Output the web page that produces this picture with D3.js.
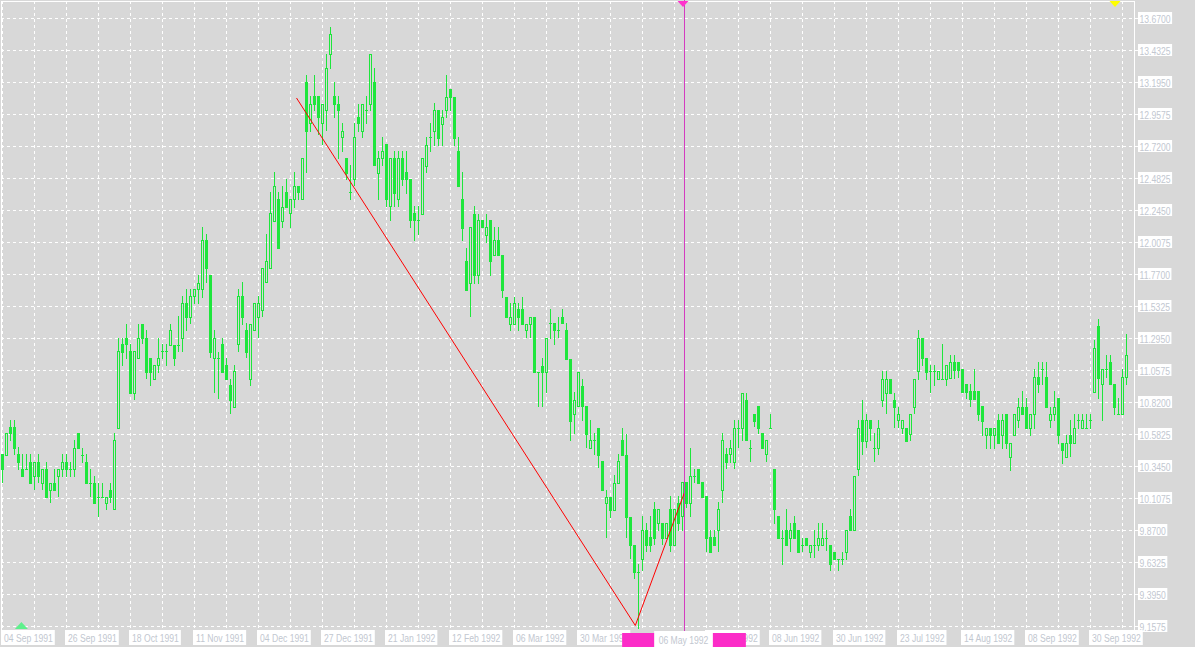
<!DOCTYPE html>
<html><head><meta charset="utf-8">
<script src="https://cdn.jsdelivr.net/npm/d3@7"></script>
<style>body{margin:0;background:#d8d8d8;overflow:hidden}svg{display:block}</style>
</head><body><svg id="c" width="1195" height="647"></svg>
<script>
const startDate = "1991-09-04";
const holidays = ["1991-11-28","1991-12-25","1992-01-01","1992-02-17","1992-04-17","1992-05-25","1992-07-03","1992-09-07"];
const open = [
10.436,10.434,10.637,10.637,10.436,10.330,10.330,10.382,10.275,10.382,
10.223,10.330,10.171,10.223,10.275,10.330,10.382,10.330,10.330,10.590,
10.434,10.382,10.223,10.223,10.119,10.119,10.075,10.171,10.026,10.632,
11.253,11.302,11.201,10.891,11.147,11.406,11.302,11.147,10.998,11.097,
11.201,11.201,11.250,11.250,11.250,11.302,11.555,11.455,11.609,11.659,
11.659,12.025,11.763,11.147,11.147,11.253,11.097,10.948,10.787,11.253,
11.609,11.357,10.998,11.357,11.455,11.510,11.711,11.815,12.168,12.327,
12.168,12.381,12.223,12.327,12.430,12.327,13.195,12.891,13.093,13.093,
12.891,12.989,13.403,13.093,13.039,12.787,12.631,12.381,12.482,12.940,
12.836,12.989,13.039,13.195,12.524,12.631,12.737,12.277,12.631,12.327,
12.631,12.532,12.482,12.223,12.173,12.221,12.578,12.788,12.834,12.988,
12.888,12.988,13.145,13.090,12.686,12.330,11.868,11.709,12.221,11.763,
12.173,12.065,12.173,11.917,12.025,11.917,11.606,11.404,11.404,11.512,
11.512,11.358,11.404,11.457,11.048,11.093,11.048,11.409,11.409,11.358,
11.457,11.358,11.142,10.737,10.791,10.945,10.791,10.486,10.540,10.634,
10.384,10.073,10.122,10.019,10.225,10.540,10.433,9.973,9.763,9.563,
9.662,9.872,9.822,10.026,9.922,9.922,9.815,10.026,9.766,10.075,
9.976,10.228,10.075,10.278,10.330,10.228,10.125,9.822,9.822,9.872,
10.174,10.436,10.436,10.379,10.634,10.634,10.842,10.486,10.738,10.793,
10.594,10.436,10.634,10.330,9.976,9.815,9.872,9.815,9.922,9.872,
9.766,9.815,9.711,9.766,9.766,9.766,9.815,9.766,9.711,9.662,
9.662,9.711,9.976,9.872,10.330,10.689,10.535,10.689,10.486,10.486,
10.842,10.891,10.998,10.842,10.689,10.634,10.634,10.585,10.787,11.052,
11.302,11.147,11.052,11.052,10.998,10.998,10.998,11.003,11.117,11.117,
11.065,10.956,10.904,10.904,10.904,10.793,10.577,10.634,10.577,10.689,
10.577,10.738,10.416,10.577,10.689,10.787,10.787,10.634,10.738,11.006,
11.065,11.006,10.689,10.738,10.850,10.523,10.416,10.577,10.523,10.689,
10.634,10.634,10.689,10.899,11.386,10.956,11.065,11.117,10.956,10.738,
10.738,11.006];
const high = [
10.436,10.590,10.689,10.689,10.490,10.436,10.436,10.436,10.382,10.436,
10.330,10.382,10.223,10.330,10.330,10.436,10.436,10.382,10.540,10.590,
10.486,10.436,10.330,10.275,10.223,10.223,10.119,10.223,10.590,11.302,
11.302,11.406,11.253,11.201,11.406,11.406,11.357,11.147,11.097,11.302,
11.253,11.253,11.406,11.250,11.460,11.609,11.659,11.659,11.659,11.763,
12.119,12.069,11.763,11.357,11.196,11.302,11.147,10.998,11.097,11.659,
11.713,11.411,11.406,11.555,11.609,11.815,12.069,12.381,12.529,12.381,
12.430,12.482,12.327,12.529,12.430,12.631,13.249,13.093,13.249,13.093,
13.039,13.403,13.608,13.195,13.093,12.891,12.631,12.581,12.891,13.039,
13.039,13.093,13.403,13.299,12.687,12.787,12.737,12.631,12.687,12.687,
12.687,12.687,12.482,12.277,12.277,12.632,12.788,12.897,13.042,12.988,
12.988,13.247,13.145,13.090,12.788,12.529,11.970,12.119,12.275,12.221,
12.173,12.221,12.173,12.119,12.119,11.917,11.606,11.558,11.606,11.558,
11.606,11.404,11.457,11.457,11.048,11.147,11.301,11.512,11.409,11.457,
11.512,11.409,11.142,10.899,11.048,10.994,10.791,10.689,10.590,10.634,
10.384,10.168,10.122,10.284,10.438,10.634,10.589,9.973,9.763,9.623,
9.976,9.922,9.976,10.082,10.026,9.922,9.922,10.125,10.026,10.125,
10.228,10.228,10.486,10.330,10.330,10.228,10.125,9.872,9.872,10.082,
10.590,10.486,10.540,10.689,10.689,10.894,10.894,10.540,10.738,10.793,
10.594,10.540,10.738,10.330,9.976,9.872,10.026,9.922,9.976,9.872,
9.815,9.815,9.766,9.872,9.922,9.922,9.872,9.766,9.711,9.662,
9.711,9.872,10.026,10.278,10.689,10.842,10.738,10.689,10.590,10.689,
11.052,11.052,10.998,10.891,10.787,10.689,10.634,10.738,10.998,11.357,
11.302,11.147,11.097,11.097,11.052,11.253,11.097,11.171,11.171,11.117,
11.065,10.956,10.956,11.065,10.904,10.793,10.634,10.634,10.634,10.738,
10.738,10.738,10.523,10.738,10.850,10.904,10.850,10.738,11.065,11.117,
11.117,11.117,10.787,10.904,10.850,10.523,10.577,10.689,10.738,10.738,
10.738,10.738,10.738,11.282,11.438,11.065,11.171,11.171,10.956,10.850,
11.065,11.332];
const low = [
10.231,10.434,10.540,10.436,10.330,10.275,10.330,10.223,10.177,10.231,
10.177,10.119,10.082,10.171,10.125,10.275,10.275,10.275,10.275,10.486,
10.382,10.223,10.125,10.075,9.976,10.119,10.028,10.082,10.026,10.632,
11.097,11.151,10.891,10.844,11.147,11.258,11.003,10.948,10.998,11.047,
11.151,11.102,11.250,11.102,11.201,11.201,11.357,11.411,11.555,11.559,
11.604,11.715,11.154,10.899,10.850,11.047,10.998,10.743,10.787,11.203,
11.406,11.154,10.948,11.357,11.307,11.460,11.711,11.815,12.168,11.967,
12.123,12.272,12.123,12.272,12.327,12.327,12.532,12.836,12.989,12.816,
12.742,12.841,13.303,12.940,12.638,12.687,12.482,12.334,12.433,12.836,
12.787,12.891,12.989,12.581,12.334,12.581,12.277,12.173,12.277,12.277,
12.433,12.376,12.123,12.025,12.069,12.221,12.529,12.686,12.734,12.734,
12.734,12.942,12.991,12.734,12.429,12.025,11.655,11.463,11.709,11.709,
12.119,12.011,11.768,11.917,11.917,11.606,11.457,11.358,11.404,11.358,
11.404,11.309,11.309,11.048,10.796,10.796,10.899,11.301,11.256,11.309,
11.409,11.142,10.545,10.594,10.791,10.689,10.492,10.486,10.438,10.338,
10.168,9.825,9.973,10.019,10.225,10.433,9.825,9.663,9.515,9.150,
9.575,9.716,9.716,9.773,9.872,9.773,9.815,9.716,9.766,9.872,
9.872,10.045,9.981,10.231,10.223,10.119,9.716,9.711,9.766,9.716,
10.082,10.335,10.379,10.335,10.490,10.540,10.538,10.387,10.644,10.594,
10.486,10.387,10.634,9.926,9.815,9.625,9.766,9.716,9.815,9.711,
9.716,9.766,9.674,9.674,9.724,9.766,9.724,9.575,9.662,9.575,
9.625,9.662,9.872,9.872,10.280,10.441,10.490,10.540,10.387,10.436,
10.793,10.743,10.891,10.639,10.639,10.590,10.535,10.540,10.743,10.998,
11.097,10.998,10.899,10.948,10.998,10.998,10.948,11.003,11.003,11.010,
10.899,10.850,10.793,10.844,10.689,10.577,10.479,10.479,10.479,10.523,
10.479,10.479,10.318,10.577,10.639,10.738,10.634,10.577,10.634,10.899,
10.956,10.787,10.639,10.689,10.523,10.372,10.416,10.424,10.523,10.634,
10.634,10.634,10.634,10.899,10.850,10.689,11.006,10.956,10.738,10.738,
10.738,10.956];
const close = [
10.330,10.590,10.590,10.483,10.379,10.275,10.330,10.223,10.382,10.275,
10.330,10.119,10.223,10.171,10.330,10.382,10.330,10.330,10.486,10.486,
10.434,10.223,10.223,10.075,10.119,10.119,10.119,10.119,10.538,11.201,
11.196,11.253,10.891,11.201,11.302,11.302,11.047,11.047,11.097,11.147,
11.201,11.201,11.357,11.147,11.250,11.555,11.455,11.609,11.659,11.708,
12.025,11.815,11.196,11.302,11.147,11.047,10.998,10.842,11.052,11.609,
11.455,11.196,11.406,11.555,11.555,11.815,11.869,12.223,12.430,11.967,
12.272,12.272,12.327,12.430,12.381,12.631,12.836,13.039,13.039,12.940,
13.039,13.299,13.553,13.039,12.989,12.836,12.524,12.381,12.787,12.891,
13.039,12.989,13.403,12.581,12.631,12.687,12.327,12.631,12.376,12.631,
12.482,12.482,12.173,12.173,12.173,12.632,12.734,12.788,12.988,12.785,
12.942,13.090,13.090,12.785,12.429,12.114,11.655,12.119,11.763,12.173,
12.119,12.119,11.868,12.025,11.917,11.655,11.457,11.457,11.558,11.457,
11.404,11.404,11.457,11.048,11.048,11.048,11.301,11.409,11.358,11.358,
11.409,11.142,10.684,10.842,11.048,10.791,10.589,10.540,10.540,10.433,
10.168,10.122,10.019,10.225,10.384,10.433,9.973,9.763,9.563,9.563,
9.872,9.766,9.766,9.815,10.026,9.815,9.922,9.766,10.026,9.922,
10.228,10.075,10.278,10.278,10.223,10.119,9.815,9.711,9.766,10.026,
10.540,10.379,10.486,10.634,10.634,10.894,10.538,10.486,10.684,10.634,
10.486,10.540,10.634,10.026,9.815,9.815,9.766,9.872,9.815,9.711,
9.766,9.766,9.766,9.766,9.815,9.815,9.815,9.618,9.662,9.662,
9.662,9.872,9.872,10.278,10.634,10.535,10.689,10.634,10.486,10.634,
10.998,10.998,10.891,10.787,10.738,10.689,10.535,10.738,10.998,11.302,
11.147,11.047,11.052,11.052,11.052,10.998,11.097,11.117,11.060,11.060,
10.899,10.899,10.844,10.844,10.738,10.684,10.634,10.577,10.634,10.523,
10.689,10.523,10.523,10.738,10.787,10.738,10.634,10.738,11.006,10.956,
11.065,10.787,10.738,10.787,10.577,10.466,10.523,10.523,10.634,10.689,
10.689,10.634,10.689,11.221,11.003,11.065,11.065,10.956,10.787,10.738,
11.006,11.171];
const priceTicks = [9.1575,9.3950,9.6325,9.8700,10.1075,10.3450,10.5825,10.8200,11.0575,11.2950,
  11.5325,11.7700,12.0075,12.2450,12.4825,12.7200,12.9575,13.1950,13.4325,13.6700];
const labelStep = 16;
const gridStep = 8;
const cursorIndex = 170;
const zigzagIdx = [73.5, 158.2, 170.45];
const zigzagPrice = [13.08, 9.165, 10.149];
const markerIdx = [170, 278, 4.6];
const markerPos = ["top", "top", "bottom"];
const markerColor = ["#ff33cc", "#ffff00", "#5ef08c"];

// dates (trading days)
const hol = new Set(holidays);
const fmtKey = d3.timeFormat("%Y-%m-%d");
const fmtLab = d3.timeFormat("%d %b %Y");
const dates = [];
{ const d = new Date(startDate + "T12:00:00");
  while (dates.length < open.length) {
    const wd = d.getDay();
    if (wd !== 0 && wd !== 6 && !hol.has(fmtKey(d))) dates.push(new Date(d));
    d.setDate(d.getDate() + 1);
  } }

const BG = "#d8d8d8", GREEN = "#1ee63c", TXT = "#c2c7d0";
const FONT = "'Liberation Sans', Arial, sans-serif";
const SQUEEZE = 0.86;
const svg = d3.select("#c");
svg.append("rect").attr("width", 1195).attr("height", 647).attr("fill", BG);

const n = open.length;
const x = d3.scaleLinear().domain([0, 1]).range([2.5, 6.5]);
const y = d3.scaleLinear().domain([9.1575, 13.67]).range([626.5, 18.5]);
const R = 1134.5;

function squeeze(t) {
  const w = t.node().getComputedTextLength() * SQUEEZE;
  t.attr("textLength", w).attr("lengthAdjust", "spacingAndGlyphs");
  return w;
}

// grid
const grid = svg.append("g").attr("stroke", "#fff").attr("stroke-dasharray", "3,3").attr("shape-rendering", "crispEdges");
grid.selectAll("line.v").data(d3.range(0, n, gridStep)).join("line").attr("class", "v")
  .attr("x1", d => x(d)).attr("x2", d => x(d)).attr("y1", 1).attr("y2", 628);
grid.selectAll("line.h").data(priceTicks).join("line").attr("class", "h")
  .attr("x1", 1).attr("x2", R).attr("y1", d => y(d)).attr("y2", d => y(d));

// border
svg.append("path").attr("d", `M1.5,630 V1.5 H${R} V630`).attr("fill", "none").attr("stroke", "#fff").attr("shape-rendering", "crispEdges");

// candles
const data = open.map((o, i) => ({ i, o, h: high[i], l: low[i], c: close[i] }));
const cg = svg.append("g").attr("shape-rendering", "crispEdges");
cg.selectAll("line").data(data).join("line")
  .attr("x1", d => x(d.i)).attr("x2", d => x(d.i))
  .attr("y1", d => Math.round(y(d.h))).attr("y2", d => Math.round(y(d.l)) + 1)
  .attr("stroke", GREEN);
cg.selectAll("rect").data(data).join("rect")
  .each(function (d) {
    const s = d3.select(this);
    const yo = Math.round(y(d.o)), yc = Math.round(y(d.c));
    if (d.c > d.o) {
      s.attr("x", x(d.i) - 1).attr("y", yc + 0.5).attr("width", 2).attr("height", Math.max(0, yo - yc))
        .attr("fill", BG).attr("stroke", GREEN);
    } else {
      s.attr("x", x(d.i) - 1.5).attr("y", yo).attr("width", 3).attr("height", Math.max(1, yc - yo + 1))
        .attr("fill", GREEN);
    }
  });

// zigzag trend line
const zz = zigzagIdx.map((v, k) => [v, zigzagPrice[k]]);
svg.append("path").datum(zz).attr("d", d3.line().x(d => x(d[0])).y(d => y(d[1])))
  .attr("fill", "none").attr("stroke", "#ff0000").attr("stroke-width", 1);

// cursor line
const cx = Math.round(x(cursorIndex)) + 1.5;
svg.append("line").attr("x1", cx).attr("x2", cx).attr("y1", 0).attr("y2", 631)
  .attr("stroke", "#d43cc0").attr("stroke-width", 1).attr("shape-rendering", "crispEdges");

// y axis labels
const yl = svg.append("g").style("font-family", FONT).style("font-size", "10px");
priceTicks.forEach(t => {
  const yy = y(t);
  yl.append("line").attr("x1", R).attr("x2", 1138).attr("y1", yy).attr("y2", yy).attr("stroke", "#fff");
  const box = yl.append("rect").attr("x", 1138).attr("y", yy - 6.5).attr("height", 12).attr("fill", "#fff");
  const tx = yl.append("text").attr("x", 1139.5).attr("y", yy + 4).attr("fill", TXT).text(t.toFixed(4));
  box.attr("width", squeeze(tx) + 3);
});

// cursor flag extents (computed first so hidden regular labels can be skipped)
const probe = svg.append("text").style("font-family", FONT).style("font-size", "10px").text(fmtLab(dates[cursorIndex]));
const tw = probe.node().getComputedTextLength() * SQUEEZE;
probe.remove();
const bl = cx - 1 - tw / 2 - 4.5, br = cx - 1 + tw / 2 + 4.5;
const flagL = bl - 32, flagR = br + 33;

// x axis labels
const xl = svg.append("g").style("font-family", FONT).style("font-size", "10px");
d3.range(0, n, labelStep).forEach(i => {
  const bx = x(i) - 1.5;
  const label = fmtLab(dates[i]);
  if (bx >= flagL && bx + tw + 5 <= flagR) return; // fully covered by the cursor flag
  const box = xl.append("rect").attr("x", bx).attr("y", 630).attr("height", 15).attr("fill", "#fff");
  const tx = xl.append("text").attr("x", bx + 3).attr("y", 641.5).attr("fill", TXT).text(label);
  box.attr("width", squeeze(tx) + 5);
});

// cursor date label with pink flags
const cl = svg.append("g").style("font-family", FONT).style("font-size", "10px");
cl.append("rect").attr("x", bl).attr("y", 631).attr("width", br - bl).attr("height", 16).attr("fill", "#fff");
const ct = cl.append("text").attr("x", bl + 4.5).attr("y", 643.5).attr("fill", TXT)
  .text(fmtLab(dates[cursorIndex]));
squeeze(ct);
cl.append("rect").attr("x", flagL).attr("y", 633).attr("width", 32).attr("height", 14).attr("fill", "#fc2cc8");
cl.append("rect").attr("x", br).attr("y", 633).attr("width", 33).attr("height", 14).attr("fill", "#fc2cc8");

// markers
markerIdx.forEach((mi, k) => {
  const mx = x(mi) + 0.5;
  const pts = markerPos[k] === "top"
    ? [[mx - 5.5, 1], [mx + 5.5, 1], [mx, 7]]
    : [[mx - 6.5, 629], [mx + 6.5, 629], [mx, 622]];
  svg.append("path").attr("d", "M" + pts.join("L") + "Z").attr("fill", markerColor[k]);
});
</script></body></html>
